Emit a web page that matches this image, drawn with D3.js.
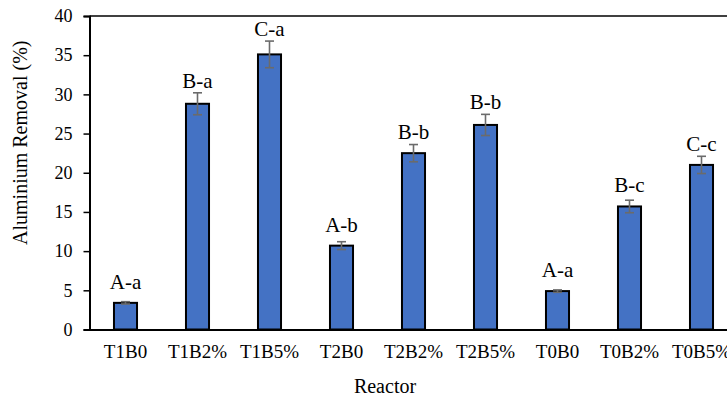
<!DOCTYPE html>
<html>
<head>
<meta charset="utf-8">
<script src="https://cdn.jsdelivr.net/npm/d3@7/dist/d3.min.js"></script>
<style>
  html, body { margin: 0; padding: 0; background: #fff; }
  svg { display: block; font-family: "Liberation Serif", "Times New Roman", serif; }
</style>
</head>
<body>
<svg id="chart" width="727" height="396"></svg>
<script>
// Aluminium removal per reactor, with standard error and significance letters
const reactors = ["T1B0", "T1B2%", "T1B5%", "T2B0", "T2B2%", "T2B5%", "T0B0", "T0B2%", "T0B5%"];
const removal = [3.4, 28.8, 35.1, 10.7, 22.5, 26.1, 4.9, 15.7, 21.0];
const errors = [0.15, 1.4, 1.7, 0.5, 1.1, 1.35, 0.15, 0.8, 1.1];
const groupLabels = ["A-a", "B-a", "C-a", "A-b", "B-b", "B-b", "A-a", "B-c", "C-c"];
const yTicks = [0, 5, 10, 15, 20, 25, 30, 35, 40];

const svg = d3.select("#chart");
const serif = "Liberation Serif, Times New Roman, serif";
const plotLeft = 89.5, plotRight = 737.5, plotTop = 16, plotBottom = 329.5;

const x = d3.scaleBand().domain(reactors).range([plotLeft, plotRight])
  .paddingInner(0.68).paddingOuter(0.34);
const y = d3.scaleLinear().domain([0, 40]).range([plotBottom, plotTop]);

const rows = reactors.map((r, i) => ({ r, v: removal[i], e: errors[i], lab: groupLabels[i] }));

// top border of plot area
svg.append("line")
  .attr("x1", plotLeft).attr("x2", plotRight).attr("y1", y(40)).attr("y2", y(40))
  .attr("stroke", "#000").attr("stroke-width", 1.5);

// y axis
const yAxis = svg.append("g").attr("transform", `translate(${plotLeft},0)`)
  .call(d3.axisLeft(y).tickValues(yTicks).tickSize(6).tickPadding(11));
yAxis.select(".domain").attr("stroke", "#000").attr("stroke-width", 2);
yAxis.selectAll(".tick line").attr("stroke", "#000").attr("stroke-width", 1.5);
yAxis.selectAll(".tick text").attr("font-size", 18).attr("fill", "#000")
  .attr("font-family", serif);

// bars
svg.append("g").selectAll("rect").data(rows).join("rect")
  .attr("x", d => x(d.r))
  .attr("y", d => y(d.v))
  .attr("width", x.bandwidth())
  .attr("height", d => y(0) - y(d.v))
  .attr("fill", "#4472C4")
  .attr("stroke", "#000").attr("stroke-width", 2);

// x axis baseline
const xAxis = svg.append("g").attr("transform", `translate(0,${plotBottom})`)
  .call(d3.axisBottom(x).tickSize(0).tickPadding(15));
xAxis.select(".domain").attr("stroke", "#000").attr("stroke-width", 2);
xAxis.selectAll(".tick text").attr("font-size", 19).attr("fill", "#000")
  .attr("font-family", serif);

// error bars
const eb = svg.append("g").attr("stroke", "#6b6b6b").attr("stroke-width", 1.6);
rows.forEach(d => {
  const cx = x(d.r) + x.bandwidth() / 2;
  eb.append("line").attr("x1", cx).attr("x2", cx).attr("y1", y(d.v + d.e)).attr("y2", y(d.v - d.e));
  eb.append("line").attr("x1", cx - 4.5).attr("x2", cx + 4.5).attr("y1", y(d.v + d.e)).attr("y2", y(d.v + d.e));
  eb.append("line").attr("x1", cx - 4.5).attr("x2", cx + 4.5).attr("y1", y(d.v - d.e)).attr("y2", y(d.v - d.e));
});

// significance letters above each bar
svg.append("g").selectAll("text").data(rows).join("text")
  .attr("x", d => x(d.r) + x.bandwidth() / 2)
  .attr("y", d => Math.min(y(d.v + d.e) - 5, y(d.v) - 14))
  .attr("text-anchor", "middle")
  .attr("font-family", serif)
  .attr("font-size", 21)
  .attr("fill", "#000")
  .text(d => d.lab);

// axis titles
svg.append("text")
  .attr("transform", `translate(27,${(plotTop + plotBottom) / 2 - 30}) rotate(-90)`)
  .attr("text-anchor", "middle")
  .attr("font-family", serif)
  .attr("font-size", 20)
  .text("Aluminium Removal (%)");

svg.append("text")
  .attr("x", 385).attr("y", 393)
  .attr("text-anchor", "middle")
  .attr("font-family", serif)
  .attr("font-size", 20)
  .text("Reactor");
</script>
</body>
</html>
